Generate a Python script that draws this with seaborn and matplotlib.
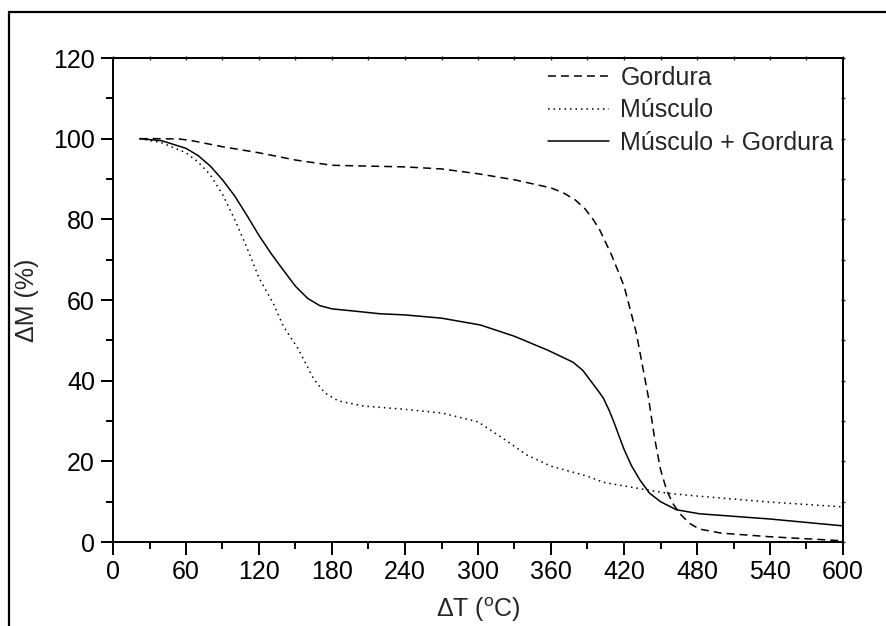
import matplotlib
matplotlib.use("Agg")
import matplotlib.pyplot as plt
from matplotlib.patches import Rectangle
from matplotlib.ticker import MultipleLocator
import seaborn as sns
import pandas as pd

# ---- data ----
gordura_T = [22, 40, 55, 65, 75, 90, 120, 150, 180, 240, 270, 300, 330, 360, 370, 380, 388, 395, 400,
             410, 420, 430, 440, 445, 450, 455, 460, 466, 474, 482, 500, 540, 600]
gordura_M = [100, 100, 99.9, 99.5, 98.9, 98, 96.5, 94.7, 93.4, 93.0, 92.5, 91.3, 89.8, 87.8, 86.6, 84.8, 82.6, 79.8, 77.4,
             71, 63.5, 52, 36, 26, 18, 12.9, 9.6, 7.0, 4.6, 3.2, 2.2, 1.3, 0.3]

musculo_T = [22, 40, 60, 70, 80, 90, 100, 110, 120, 132, 140, 152, 165, 174, 185, 206, 236, 270, 300,
             320, 340, 360, 390, 403, 420, 455, 480, 540, 600]
musculo_M = [100, 99, 96.5, 94.2, 91, 86.2, 80, 73, 65.5, 59, 53.5, 48, 40.4, 37, 35, 33.7, 33, 32, 29.8,
             25.8, 21.6, 18.8, 16.3, 14.8, 13.9, 12.1, 11.4, 9.9, 8.7]

mix_T = [22, 40, 60, 70, 80, 90, 100, 110, 120, 130, 140, 150, 160, 170, 180, 200, 219, 240, 270,
         302, 330, 357, 378, 386, 392, 398, 403, 408, 412, 416, 420, 426, 433, 441, 450, 463, 482, 540, 600]
mix_M = [100, 99.5, 97.6, 95.8, 93.2, 89.8, 85.8, 81, 76, 71.5, 67.4, 63.4, 60.4, 58.6, 57.8, 57.2, 56.6, 56.3, 55.5,
         53.8, 51, 47.6, 44.6, 42.6, 40.2, 37.8, 35.7, 32.5, 29.5, 26.2, 23, 19, 15.4, 12.1, 10, 8, 7, 5.7, 4]

labels = ["Gordura", "Músculo", "Músculo + Gordura"]
x_ticks = [0, 60, 120, 180, 240, 300, 360, 420, 480, 540, 600]
y_ticks = [0, 20, 40, 60, 80, 100, 120]

df = pd.concat([
    pd.DataFrame({"T": gordura_T, "M": gordura_M, "s": labels[0]}),
    pd.DataFrame({"T": musculo_T, "M": musculo_M, "s": labels[1]}),
    pd.DataFrame({"T": mix_T, "M": mix_M, "s": labels[2]}),
])

sns.set_style("ticks")
plt.rcParams["font.family"] = ["Liberation Sans", "DejaVu Sans"]
plt.rcParams["mathtext.fontset"] = "custom"
plt.rcParams["mathtext.rm"] = "Liberation Sans"
plt.rcParams["mathtext.it"] = "Liberation Sans"

FS = 18
fig = plt.figure(figsize=(8.87, 6.26), dpi=100)
ax = fig.add_axes([113 / 887, 1 - 542 / 626, 730 / 887, 484 / 626])

dashes = {labels[0]: (5.2, 3.3), labels[1]: (1, 2.6), labels[2]: ""}
sns.lineplot(data=df, x="T", y="M", hue="s", style="s", hue_order=labels, style_order=labels,
             palette=["black"] * 3, dashes=dashes, sort=False, estimator=None,
             linewidth=1.1, ax=ax)

ax.set_xlim(0, 600)
ax.set_ylim(0, 120)
ax.set_xticks(x_ticks)
ax.set_yticks(y_ticks)
ax.xaxis.set_minor_locator(MultipleLocator(30))
ax.yaxis.set_minor_locator(MultipleLocator(10))
ax.tick_params(axis="both", which="major", direction="out", length=9, width=1.4,
               labelsize=FS, color="black", labelcolor="black", pad=4)
ax.tick_params(axis="both", which="minor", direction="out", length=5, width=1.4, color="black")
for s in ax.spines.values():
    s.set_linewidth(1.4)
    s.set_color("black")

# tiny ticks on top and right spine (Origin style)
sec_x = ax.secondary_xaxis("top")
sec_x.set_xticks(list(range(0, 601, 30)))
sec_x.tick_params(direction="inout", length=3, width=1.0, labeltop=False)
sec_x.spines["top"].set_linewidth(1.4)
sec_y = ax.secondary_yaxis("right")
sec_y.set_yticks(list(range(0, 121, 10)))
sec_y.tick_params(direction="inout", length=3, width=1.0, labelright=False)
sec_y.spines["right"].set_linewidth(1.4)
ax.tick_params(top=False, right=False, which="both")

ax.set_xlabel(r"ΔT ($^\mathrm{o}$C)", fontsize=FS, labelpad=8)
ax.set_ylabel("ΔM (%)", fontsize=FS, labelpad=10)

leg = ax.legend(loc="upper left", bbox_to_anchor=(548 / 887, 1 - 66 / 626),
                bbox_transform=fig.transFigure, frameon=False, fontsize=FS,
                handlelength=2.45, handletextpad=0.45, labelspacing=0.33,
                borderpad=0, borderaxespad=0)
for h in leg.get_lines():
    h.set_linewidth(1.1)

# outer frame (right and bottom edges lie outside the image)
top = 1 - 12 / 626
fig.add_artist(Rectangle((9 / 887, -0.2), 1.5, 0.2 + top, transform=fig.transFigure,
                         fill=False, edgecolor="black", linewidth=1.6, clip_on=False))

fig.savefig("out.png", dpi=100)
